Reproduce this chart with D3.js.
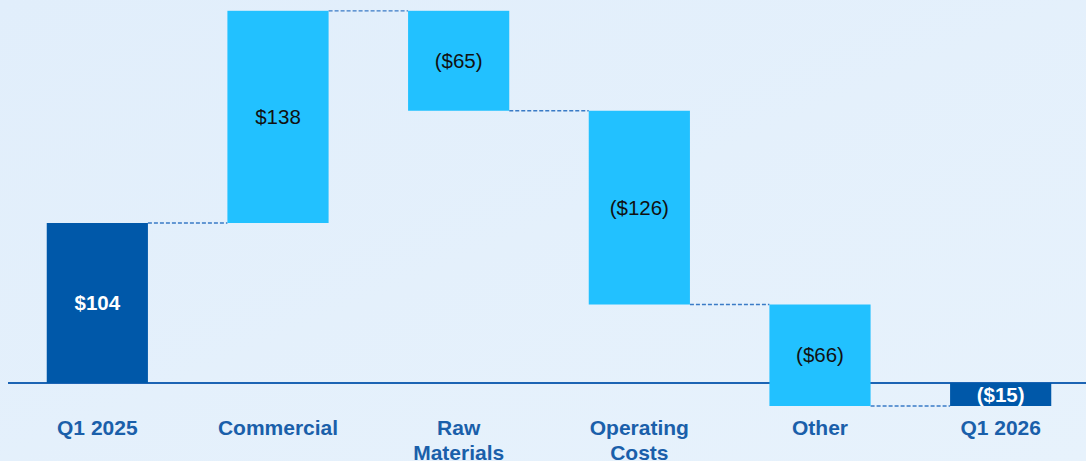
<!DOCTYPE html>
<html>
<head>
<meta charset="utf-8">
<script src="https://cdn.jsdelivr.net/npm/d3@7"></script>
<style>
  html, body { margin: 0; padding: 0; }
  body { width: 1086px; height: 461px; overflow: hidden; }
  svg { display: block; font-family: "Liberation Sans", Arial, sans-serif; }
</style>
</head>
<body>
<svg id="chart" width="1086" height="461"></svg>
<script>
// Quarter-over-quarter bridge ($, millions)
const categories = ["Q1 2025", "Commercial", "Raw Materials", "Operating Costs", "Other", "Q1 2026"];
const categoryLines = [["Q1 2025"], ["Commercial"], ["Raw", "Materials"], ["Operating", "Costs"], ["Other"], ["Q1 2026"]];
const deltas = [104, 138, -65, -126, -66, -15];
const isTotal = [true, false, false, false, false, true];
const valueLabels = ["$104", "$138", "($65)", "($126)", "($66)", "($15)"];

const W = 1086, H = 461;
const svg = d3.select("#chart");

// background wash
const defs = svg.append("defs");
const grad = defs.append("linearGradient").attr("id", "bg")
  .attr("x1", "0%").attr("y1", "0%").attr("x2", "100%").attr("y2", "100%");
grad.append("stop").attr("offset", "0%").attr("stop-color", "#e1eefb");
grad.append("stop").attr("offset", "100%").attr("stop-color", "#e7f2fc");
svg.append("rect").attr("width", W).attr("height", H).attr("fill", "url(#bg)");

// build bar extents: totals start from zero, steps from running level
let running = 0;
const bars = categories.map((c, i) => {
  let y0, y1;
  if (isTotal[i]) {
    y0 = 0; y1 = deltas[i];
    running = deltas[i];
  } else {
    y0 = running; y1 = running + deltas[i];
    running = y1;
  }
  return { cat: c, lines: categoryLines[i], y0, y1, end: running, total: isTotal[i], label: valueLabels[i] };
});

const x = d3.scaleBand().domain(categories).range([7, 1091]).paddingInner(0.44).paddingOuter(0.22);
const y = d3.scaleLinear().domain([-15, 242]).range([406, 10.8]);

// baseline
svg.append("line")
  .attr("x1", 8).attr("x2", W)
  .attr("y1", y(0)).attr("y2", y(0))
  .attr("stroke", "#1c64b4").attr("stroke-width", 2);

// dashed connectors between consecutive bars
bars.slice(0, -1).forEach((b, i) => {
  const next = bars[i + 1];
  svg.append("line")
    .attr("x1", x(b.cat) + x.bandwidth()).attr("x2", x(next.cat))
    .attr("y1", y(b.end)).attr("y2", y(b.end))
    .attr("stroke", "#3a7bc6").attr("stroke-width", 1.3)
    .attr("stroke-dasharray", "4,2");
});

// bars
svg.selectAll("rect.bar").data(bars).enter().append("rect")
  .attr("class", "bar")
  .attr("x", d => x(d.cat))
  .attr("width", x.bandwidth())
  .attr("y", d => y(Math.max(d.y0, d.y1)))
  .attr("height", d => Math.abs(y(d.y0) - y(d.y1)))
  .attr("fill", d => d.total ? "#0058a9" : "#22c1ff");

// value labels centred in bars
svg.selectAll("text.val").data(bars).enter().append("text")
  .attr("class", "val")
  .attr("x", d => x(d.cat) + x.bandwidth() / 2)
  .attr("y", d => (y(d.y0) + y(d.y1)) / 2)
  .attr("dy", "0.35em")
  .attr("text-anchor", "middle")
  .attr("font-size", 20.5)
  .attr("font-weight", d => d.total ? "bold" : "normal")
  .attr("fill", d => d.total ? "#ffffff" : "#111111")
  .text(d => d.label);

// category labels
const cl = svg.selectAll("text.cat").data(bars).enter().append("text")
  .attr("class", "cat")
  .attr("x", d => x(d.cat) + x.bandwidth() / 2)
  .attr("y", 434.5)
  .attr("text-anchor", "middle")
  .attr("font-size", 21)
  .attr("font-weight", "bold")
  .attr("fill", "#1a5faa");
cl.selectAll("tspan").data(d => d.lines.map(t => ({ t, cx: x(d.cat) + x.bandwidth() / 2 })))
  .enter().append("tspan")
  .attr("x", d => d.cx)
  .attr("dy", (d, i) => i === 0 ? 0 : 25)
  .text(d => d.t);
</script>
</body>
</html>
